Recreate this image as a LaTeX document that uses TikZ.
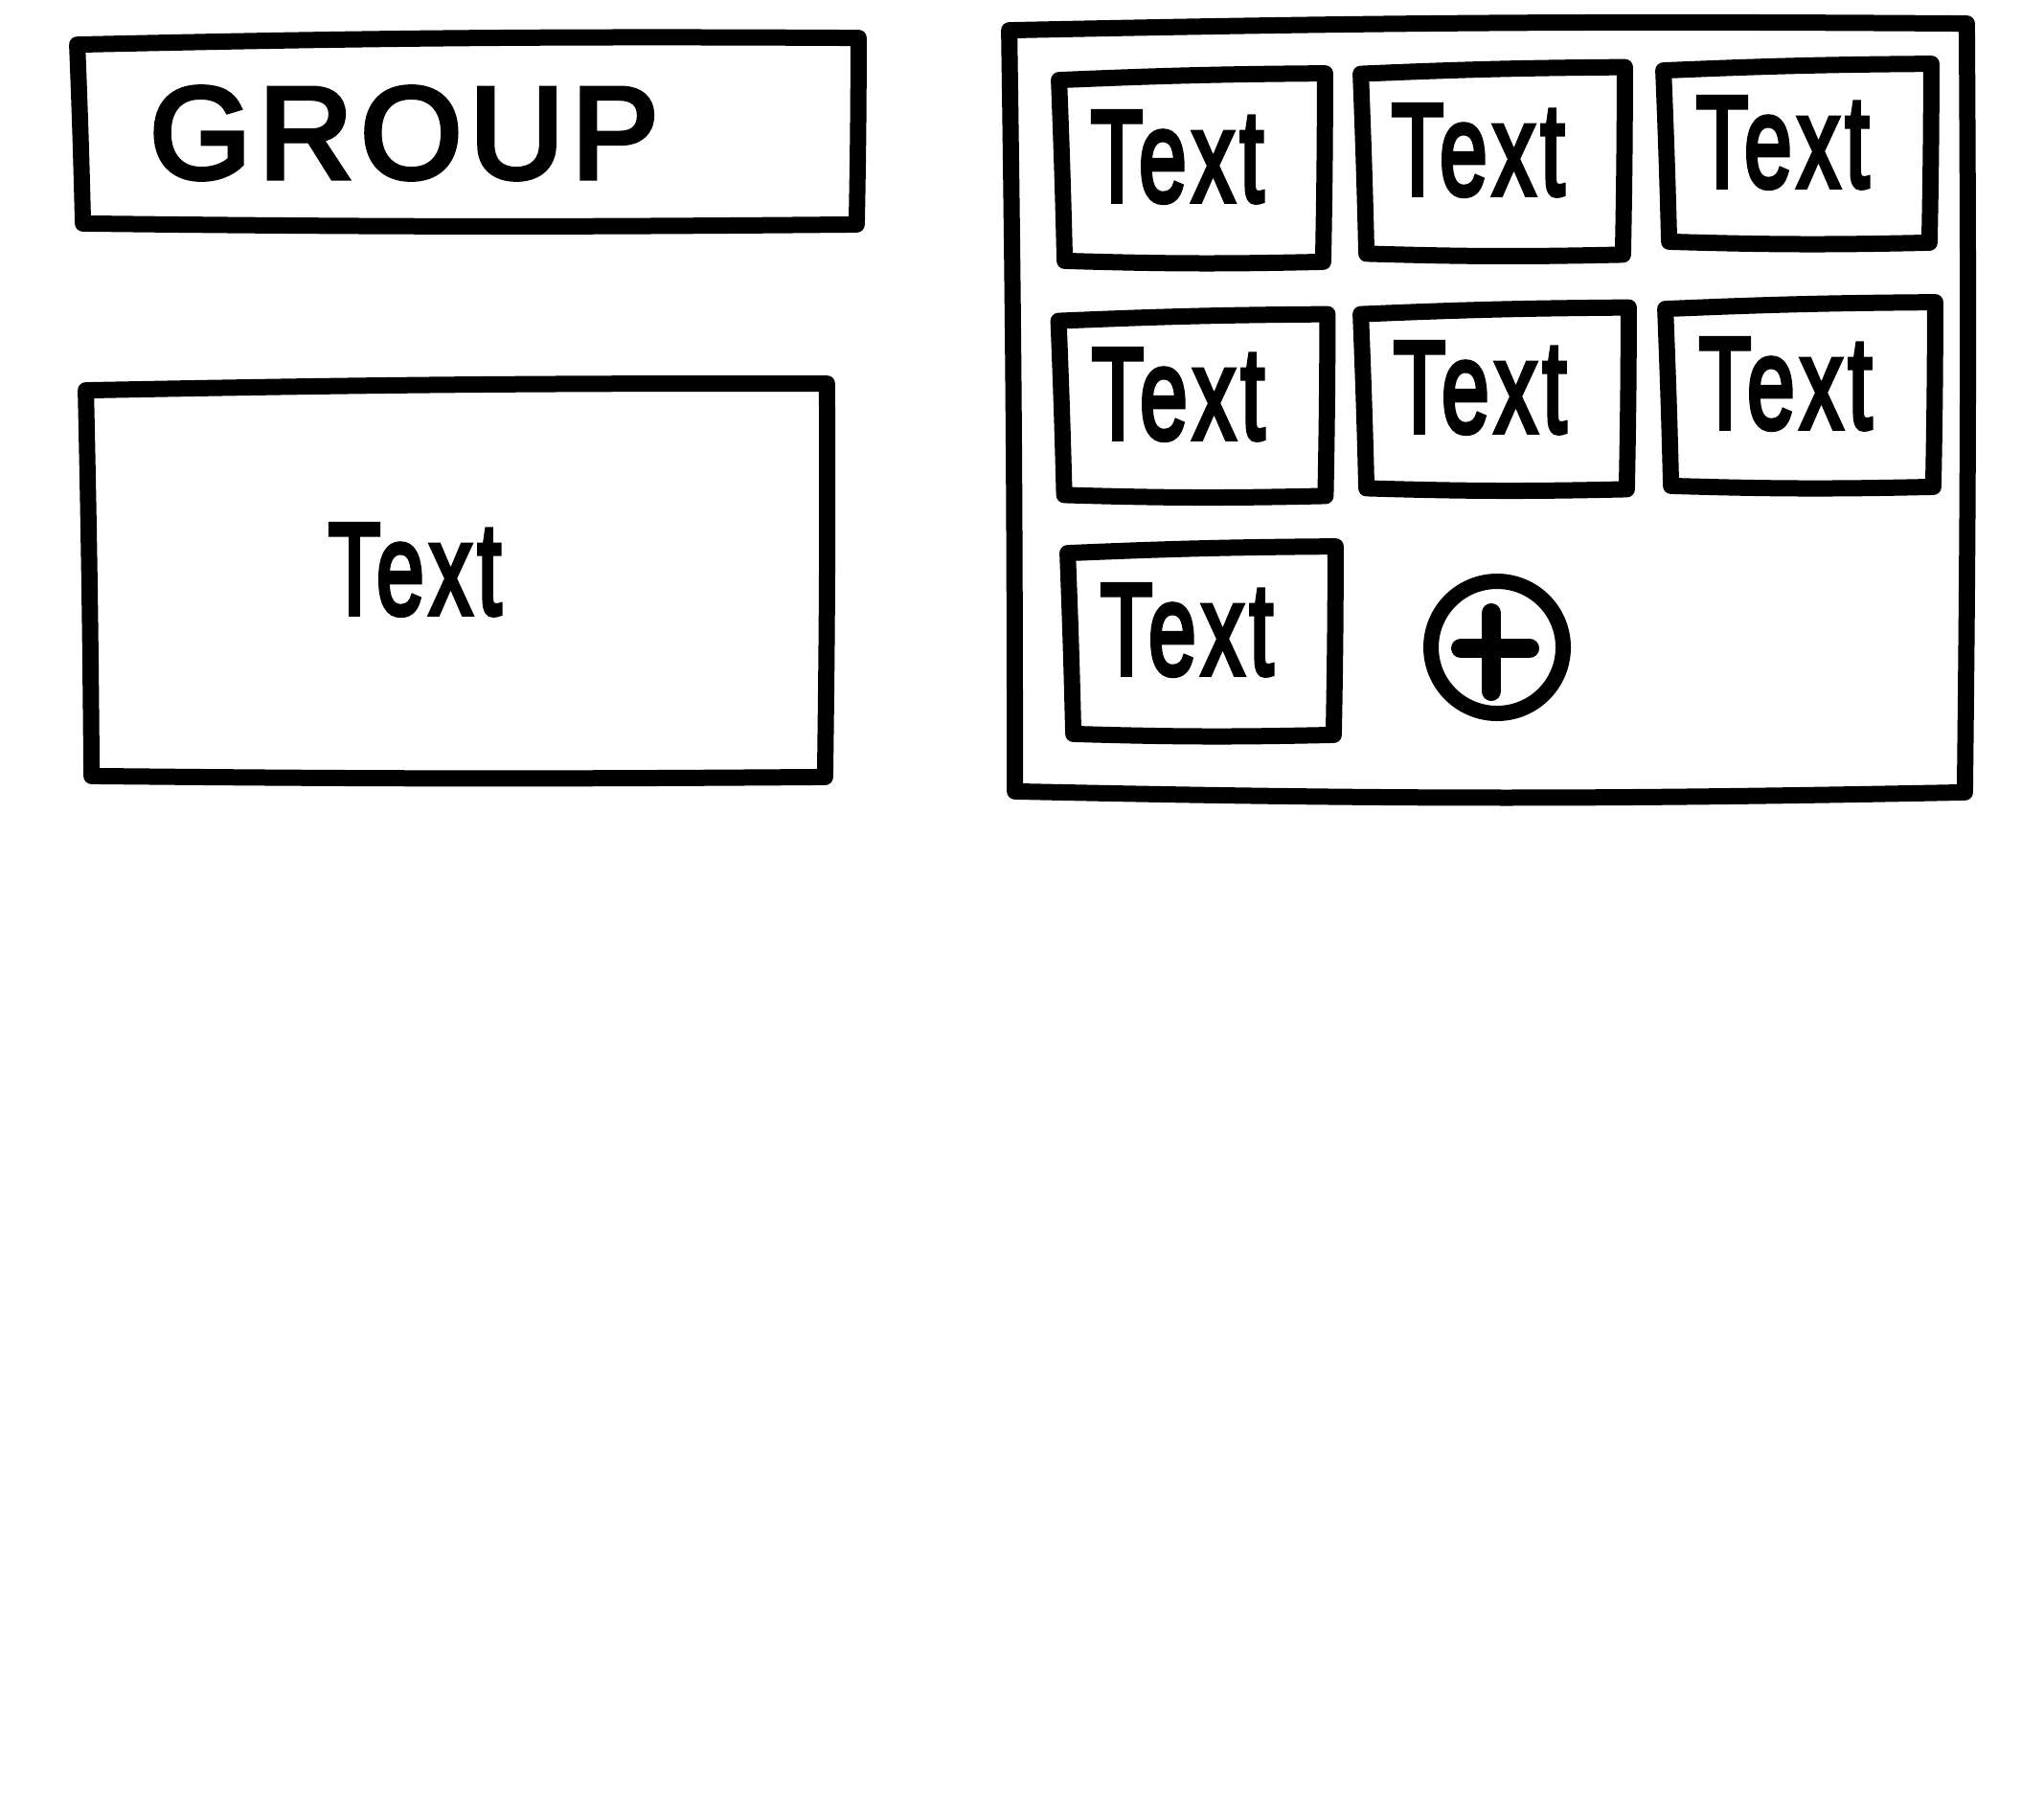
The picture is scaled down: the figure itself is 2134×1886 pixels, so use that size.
\documentclass[tikz,border=0pt]{standalone}
\usepackage{fontspec}
\setmainfont{Liberation Sans}
\newfontfamily\markerfont{Liberation Sans}[FakeBold=4, LetterSpace=6]
% narrow marker-like lettering
\newcommand{\scrawl}[1]{\scalebox{0.66}[1]{#1}}
% hand-drawn outline around a named (invisible) node
\newcommand{\handbox}[3]{%
  \draw[handline]
    ([shift={(-3,4)}]#1.north west) to[bend left=#2]
    ([shift={(4,-3)}]#1.north east) to[bend left=0.5]
    ([shift={(2,3)}]#1.south east) to[bend left=#3]
    ([shift={(3,2)}]#1.south west) to[bend right=0.4]
    ([shift={(-3,4)}]#1.north west) -- cycle;}
\begin{document}
\begin{tikzpicture}[x=0.5pt,y=-0.5pt,
  handline/.style={draw=black, line width=8.5pt, line join=round, line cap=round},
  frame/.style n args={2}{draw=none, minimum width=#1, minimum height=#2, inner sep=0pt},
  lettering/.style={font=\markerfont\fontsize{68}{68}\selectfont},
  tile/.style n args={2}{frame={#1}{#2},
    label={[lettering, xshift=-7.5pt, yshift=5.5pt]center:\scrawl{Text}}}]

% canvas
\path[fill=white] (0,0) rectangle (2134,1886);
\useasboundingbox (0,0) rectangle (2134,1886);

% left column: title bar and a single text card
\node[frame={404pt}{94pt}] (group) at (488,137) {};
\handbox{group}{0.8}{0.6}
\node[font=\markerfont\fontsize{68}{68}\selectfont] (grouptitle) at (422,139) {GROUP};

\node[frame={383pt}{202pt},
  label={[lettering, xshift=-21.5pt, yshift=5.5pt]center:\scrawl{Text}}] (card) at (476,606) {};
\handbox{card}{0.6}{0.5}

% right column: container holding a grid of tiles
\node[frame={496pt}{398pt}] (panel) at (1553,426) {};
\handbox{panel}{0.8}{1.2}

\node[tile={135pt}{95pt}]   (t11) at (1244,175) {};
\node[tile={134pt}{94.5pt}] (t12) at (1558,168) {};
\node[tile={136pt}{90pt}]   (t13) at (1876,160) {};
\node[tile={136.5pt}{91.5pt}] (t21) at (1245,423) {};
\node[tile={136pt}{91.5pt}] (t22) at (1560,416) {};
\node[tile={137pt}{93pt}]   (t23) at (1879,412) {};
\node[tile={136pt}{95pt}]   (t31) at (1254,669) {};
\foreach \t in {t11,t12,t13,t21,t22,t23,t31}{\handbox{\t}{1}{1.5}}

% add button
\node[draw=black, line width=8pt, circle, minimum size=69pt, inner sep=0pt] (add) at (1563,676) {};
\draw[line width=10pt, line cap=round] (add.center) ++(-6,-36) -- ++(0,82);
\draw[line width=10pt, line cap=round] (add.center) ++(-38,1) -- ++(72,0);

\end{tikzpicture}
\end{document}
